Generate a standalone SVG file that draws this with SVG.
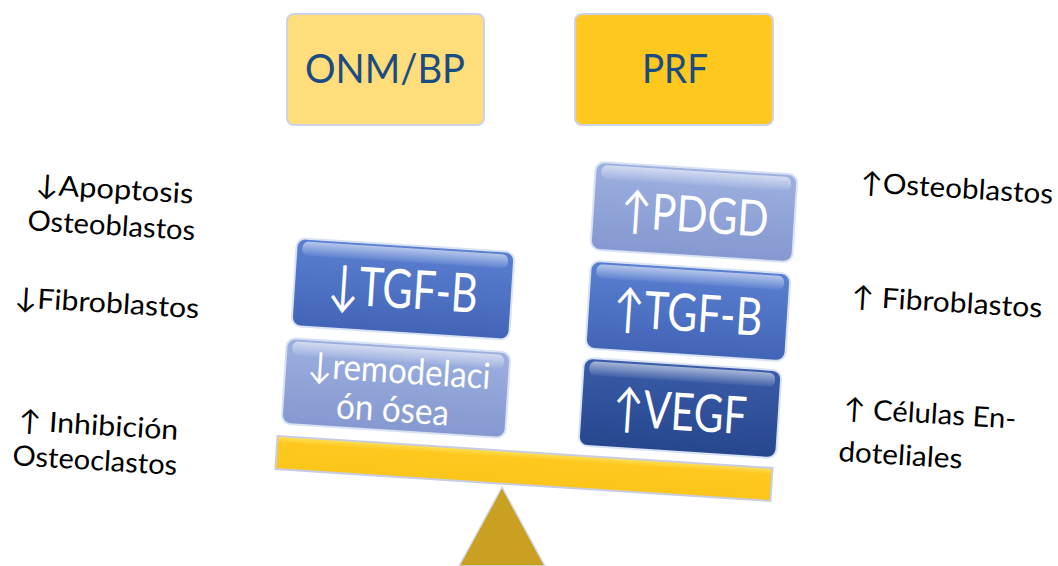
<svg xmlns="http://www.w3.org/2000/svg" width="1058" height="566" viewBox="0 0 1058 566">
<defs>
<linearGradient id="gBlue" x1="0" y1="0" x2="0" y2="1">
<stop offset="0" stop-color="#5A80D2"/><stop offset="1" stop-color="#4264B6"/>
</linearGradient>
<linearGradient id="gLight" x1="0" y1="0" x2="0" y2="1">
<stop offset="0" stop-color="#9DB0E0"/><stop offset="1" stop-color="#8598D0"/>
</linearGradient>
<linearGradient id="gDark" x1="0" y1="0" x2="0" y2="1">
<stop offset="0" stop-color="#3A5CA8"/><stop offset="1" stop-color="#26478E"/>
</linearGradient>
<linearGradient id="gShine" x1="0" y1="0" x2="0" y2="1">
<stop offset="0" stop-color="#FFFFFF" stop-opacity="0.55"/><stop offset="1" stop-color="#FFFFFF" stop-opacity="0.05"/>
</linearGradient>
<linearGradient id="gBeam" x1="0" y1="0" x2="0" y2="1">
<stop offset="0" stop-color="#FDE15A"/><stop offset="0.2" stop-color="#FEC81E"/><stop offset="1" stop-color="#FCC51A"/>
</linearGradient>
</defs>
<style>
.hdr{stroke:#CDD2E6;stroke-width:2}
.hdrt{font-family:Lato,"Open Sans",sans-serif;font-size:40px;fill:#1A4C83;text-anchor:middle}
.box{stroke:#D8E2F4;stroke-width:2}
.bt{font-family:Lato,"Open Sans","DejaVu Sans",sans-serif;fill:#FFFFFF;text-anchor:middle}
.lab{font-family:Lato,"Open Sans","DejaVu Sans",sans-serif;font-size:28px;fill:#000000}
</style>

<g id="node-onm">
<rect class="hdr" x="287" y="14" width="197" height="111" rx="7" fill="#FEDD7A"/>
<text class="hdrt" x="385" y="83" textLength="160" lengthAdjust="spacingAndGlyphs">ONM/BP</text>
</g>
<g id="node-prf">
<rect class="hdr" x="575" y="14" width="198" height="111" rx="7" fill="#FEC81E"/>
<text class="hdrt" x="675" y="83" textLength="66" lengthAdjust="spacingAndGlyphs">PRF</text>
</g>

<g id="node-fulcrum">
<polygon points="502,487 459,566 545,566" fill="#C9A021" stroke="#D6DAEA" stroke-width="1.5"/>
</g>

<g id="node-beam" transform="rotate(3.7 524 468)">
<rect x="276" y="452" width="496" height="33" fill="url(#gBeam)" stroke="#C8CCE0" stroke-width="2"/>
</g>

<g id="node-tgfb-left" transform="rotate(3.7 403 289)">
<rect class="box" x="294" y="245" width="218" height="88" rx="9" fill="url(#gBlue)"/>
<rect x="300" y="248" width="206" height="14" rx="6" fill="url(#gShine)"/>
<text class="bt" x="403" y="308" font-size="54" textLength="150" lengthAdjust="spacingAndGlyphs">↓TGF-B</text>
</g>

<g id="node-remodelacion" transform="rotate(3.7 396 388)">
<rect class="box" x="284" y="345" width="224" height="86" rx="9" fill="url(#gLight)"/>
<rect x="290" y="348" width="212" height="14" rx="6" fill="url(#gShine)"/>
<text class="bt" x="398" y="383" font-size="36" textLength="183" lengthAdjust="spacingAndGlyphs">↓remodelaci</text>
<text class="bt" x="394" y="422" font-size="36" textLength="113" lengthAdjust="spacingAndGlyphs">ón ósea</text>
</g>

<g id="node-pdgd" transform="rotate(3.7 694 212)">
<rect class="box" x="593" y="168" width="202" height="88" rx="9" fill="url(#gLight)"/>
<rect x="599" y="171" width="190" height="14" rx="6" fill="url(#gShine)"/>
<text class="bt" x="695" y="232" font-size="50" textLength="148" lengthAdjust="spacingAndGlyphs">↑PDGD</text>
</g>

<g id="node-tgfb-right" transform="rotate(3.7 688 311)">
<rect class="box" x="588" y="267" width="200" height="88" rx="9" fill="url(#gBlue)"/>
<rect x="594" y="270" width="188" height="14" rx="6" fill="url(#gShine)"/>
<text class="bt" x="688" y="331" font-size="52" textLength="149" lengthAdjust="spacingAndGlyphs">↑TGF-B</text>
</g>

<g id="node-vegf" transform="rotate(3.7 680 408)">
<rect class="box" x="581" y="364" width="198" height="88" rx="9" fill="url(#gDark)"/>
<rect x="587" y="367" width="186" height="14" rx="6" fill="url(#gShine)"/>
<text class="bt" x="680" y="430" font-size="52" textLength="134" lengthAdjust="spacingAndGlyphs">↑VEGF</text>
</g>

<g id="labels-left">
<text class="lab" x="35" y="194" transform="rotate(3.5 35 194)" textLength="158" lengthAdjust="spacingAndGlyphs">↓Apoptosis</text>
<text class="lab" x="27" y="230" transform="rotate(3.5 27 230)" textLength="168" lengthAdjust="spacingAndGlyphs">Osteoblastos</text>
<text class="lab" x="14" y="307" transform="rotate(3.5 14 307)" textLength="185" lengthAdjust="spacingAndGlyphs">↓Fibroblastos</text>
<text class="lab" x="18" y="430" transform="rotate(3.5 18 430)" textLength="160" lengthAdjust="spacingAndGlyphs">↑ Inhibición</text>
<text class="lab" x="12" y="465" transform="rotate(3.5 12 465)" textLength="165" lengthAdjust="spacingAndGlyphs">Osteoclastos</text>
</g>

<g id="labels-right">
<text class="lab" x="860" y="192" transform="rotate(3.5 860 192)" textLength="193" lengthAdjust="spacingAndGlyphs">↑Osteoblastos</text>
<text class="lab" x="851" y="306" transform="rotate(3.5 851 306)" textLength="191" lengthAdjust="spacingAndGlyphs">↑ Fibroblastos</text>
<text class="lab" x="843" y="418" transform="rotate(3.5 843 418)" textLength="173" lengthAdjust="spacingAndGlyphs">↑ Células En-</text>
<text class="lab" x="838" y="461" transform="rotate(3.5 838 461)" textLength="124" lengthAdjust="spacingAndGlyphs">doteliales</text>
</g>
</svg>
